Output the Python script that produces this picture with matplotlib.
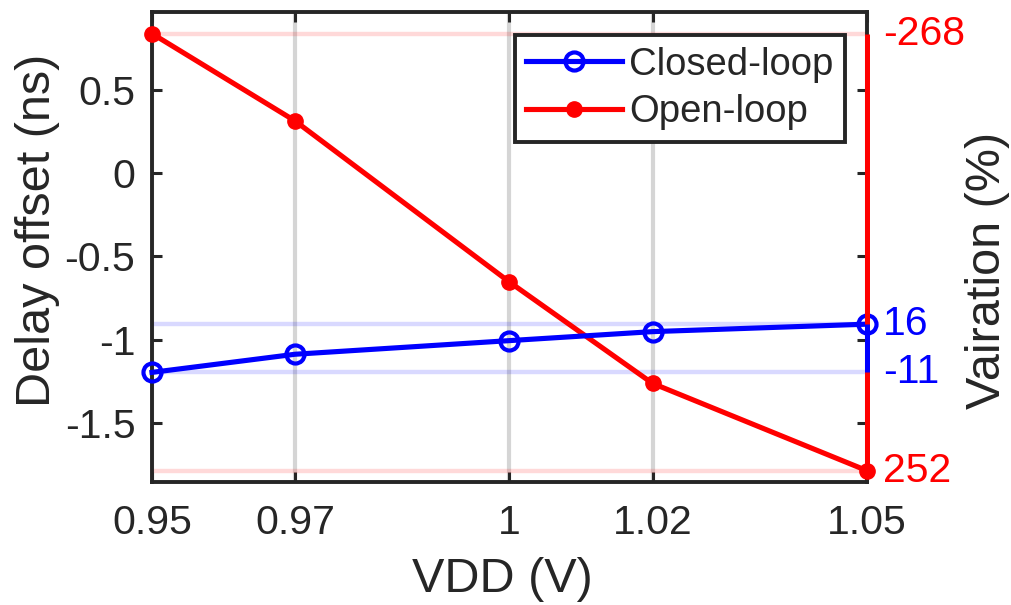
import matplotlib
matplotlib.use("Agg")
import matplotlib.pyplot as plt

plt.rcParams['font.family'] = ['Liberation Sans', 'DejaVu Sans']

# Supply voltage sweep and measured delay offsets
vdd = [0.95, 0.97, 1.00, 1.02, 1.05]
xtick_labels = ['0.95', '0.97', '1', '1.02', '1.05']
closed_loop = [-1.197, -1.088, -1.006, -0.952, -0.907]
open_loop = [0.840, 0.315, -0.654, -1.263, -1.788]

# Variation annotations (%) shown at the extremes of each curve
closed_var_max, closed_var_min = '16', '-11'
open_var_max, open_var_min = '-268', '252'

ink = '#262626'
fs_tick = 29.5
fs_leg = 27.5
fs_label = 35

fig = plt.figure(figsize=(10.11, 6.05), dpi=100)
ax = fig.add_axes([0.1503, 0.2033, 0.7073, 0.7767])

ax.set_xlim(0.95, 1.05)
ax.set_ylim(-1.856, 0.969)

# Faint reference lines at each curve's max / min
for vals, col in ((open_loop, 'red'), (closed_loop, 'blue')):
    for v in (max(vals), min(vals)):
        ax.axhline(v, color=col, alpha=0.15, lw=3.2, zorder=1)

ax.plot(vdd, closed_loop, '-o', color='blue', lw=3.7, ms=13,
        mfc='none', mec='blue', mew=3.0, label='Closed-loop', zorder=4, clip_on=False)
ax.plot(vdd, open_loop, '-o', color='red', lw=3.7, ms=11,
        mfc='red', mec='red', label='Open-loop', zorder=3, clip_on=False)

# Range bars on the right edge
xr = vdd[-1]
ax.plot([xr, xr], [min(open_loop), max(open_loop)], color='red', lw=3.6,
        clip_on=False, zorder=5, solid_capstyle='butt')
ax.plot([xr, xr], [min(closed_loop), max(closed_loop)], color='blue', lw=3.6,
        clip_on=False, zorder=6, solid_capstyle='butt')

# Range labels
trans = ax.get_yaxis_transform()
for txt, yv, col in ((open_var_max, max(open_loop), 'red'),
                     (open_var_min, min(open_loop), 'red'),
                     (closed_var_max, max(closed_loop), 'blue'),
                     (closed_var_min, min(closed_loop), 'blue')):
    ax.annotate(txt, xy=(1.0, yv), xycoords=trans, xytext=(16, 0),
                textcoords='offset pixels', ha='left', va='center',
                color=col, fontsize=fs_tick, annotation_clip=False)

ax.set_xticks(vdd)
ax.set_xticklabels(xtick_labels)
ax.set_yticks([-1.5, -1, -0.5, 0, 0.5])
ax.set_yticklabels(['-1.5', '-1', '-0.5', '0', '0.5'])
ax.tick_params(direction='in', length=7, width=2.2, colors=ink, labelsize=fs_tick,
               top=True, right=True)
ax.tick_params(axis='x', pad=16)
ax.tick_params(axis='y', pad=12)

ax.grid(axis='x', color='#c8c8c8', lw=3.0, alpha=0.75, zorder=0)
ax.set_axisbelow(True)

for sp in ax.spines.values():
    sp.set_linewidth(2.8)
    sp.set_color(ink)

fig.text(502 / 1011, 1 - 580 / 605, 'VDD (V)', ha='center', va='center',
         fontsize=fs_label, color=ink)
fig.text(38 / 1011, 1 - 230 / 605, 'Delay offset (ns)', rotation=90,
         ha='center', va='center', fontsize=fs_label, color=ink)
fig.text(988 / 1011, 1 - 270 / 605, 'Vairation (%)', rotation=90,
         ha='center', va='center', fontsize=fs_label, color=ink)

leg = ax.legend(loc='upper right', bbox_to_anchor=(0.9695, 0.951), borderaxespad=0,
                fontsize=fs_leg, handlelength=2.5, handletextpad=0.2,
                borderpad=0.3, labelspacing=0.3, fancybox=False, framealpha=1)
leg.get_frame().set_edgecolor(ink)
leg.get_frame().set_linewidth(2.8)
for t in leg.get_texts():
    t.set_color(ink)

fig.savefig('out.png', dpi=100)
